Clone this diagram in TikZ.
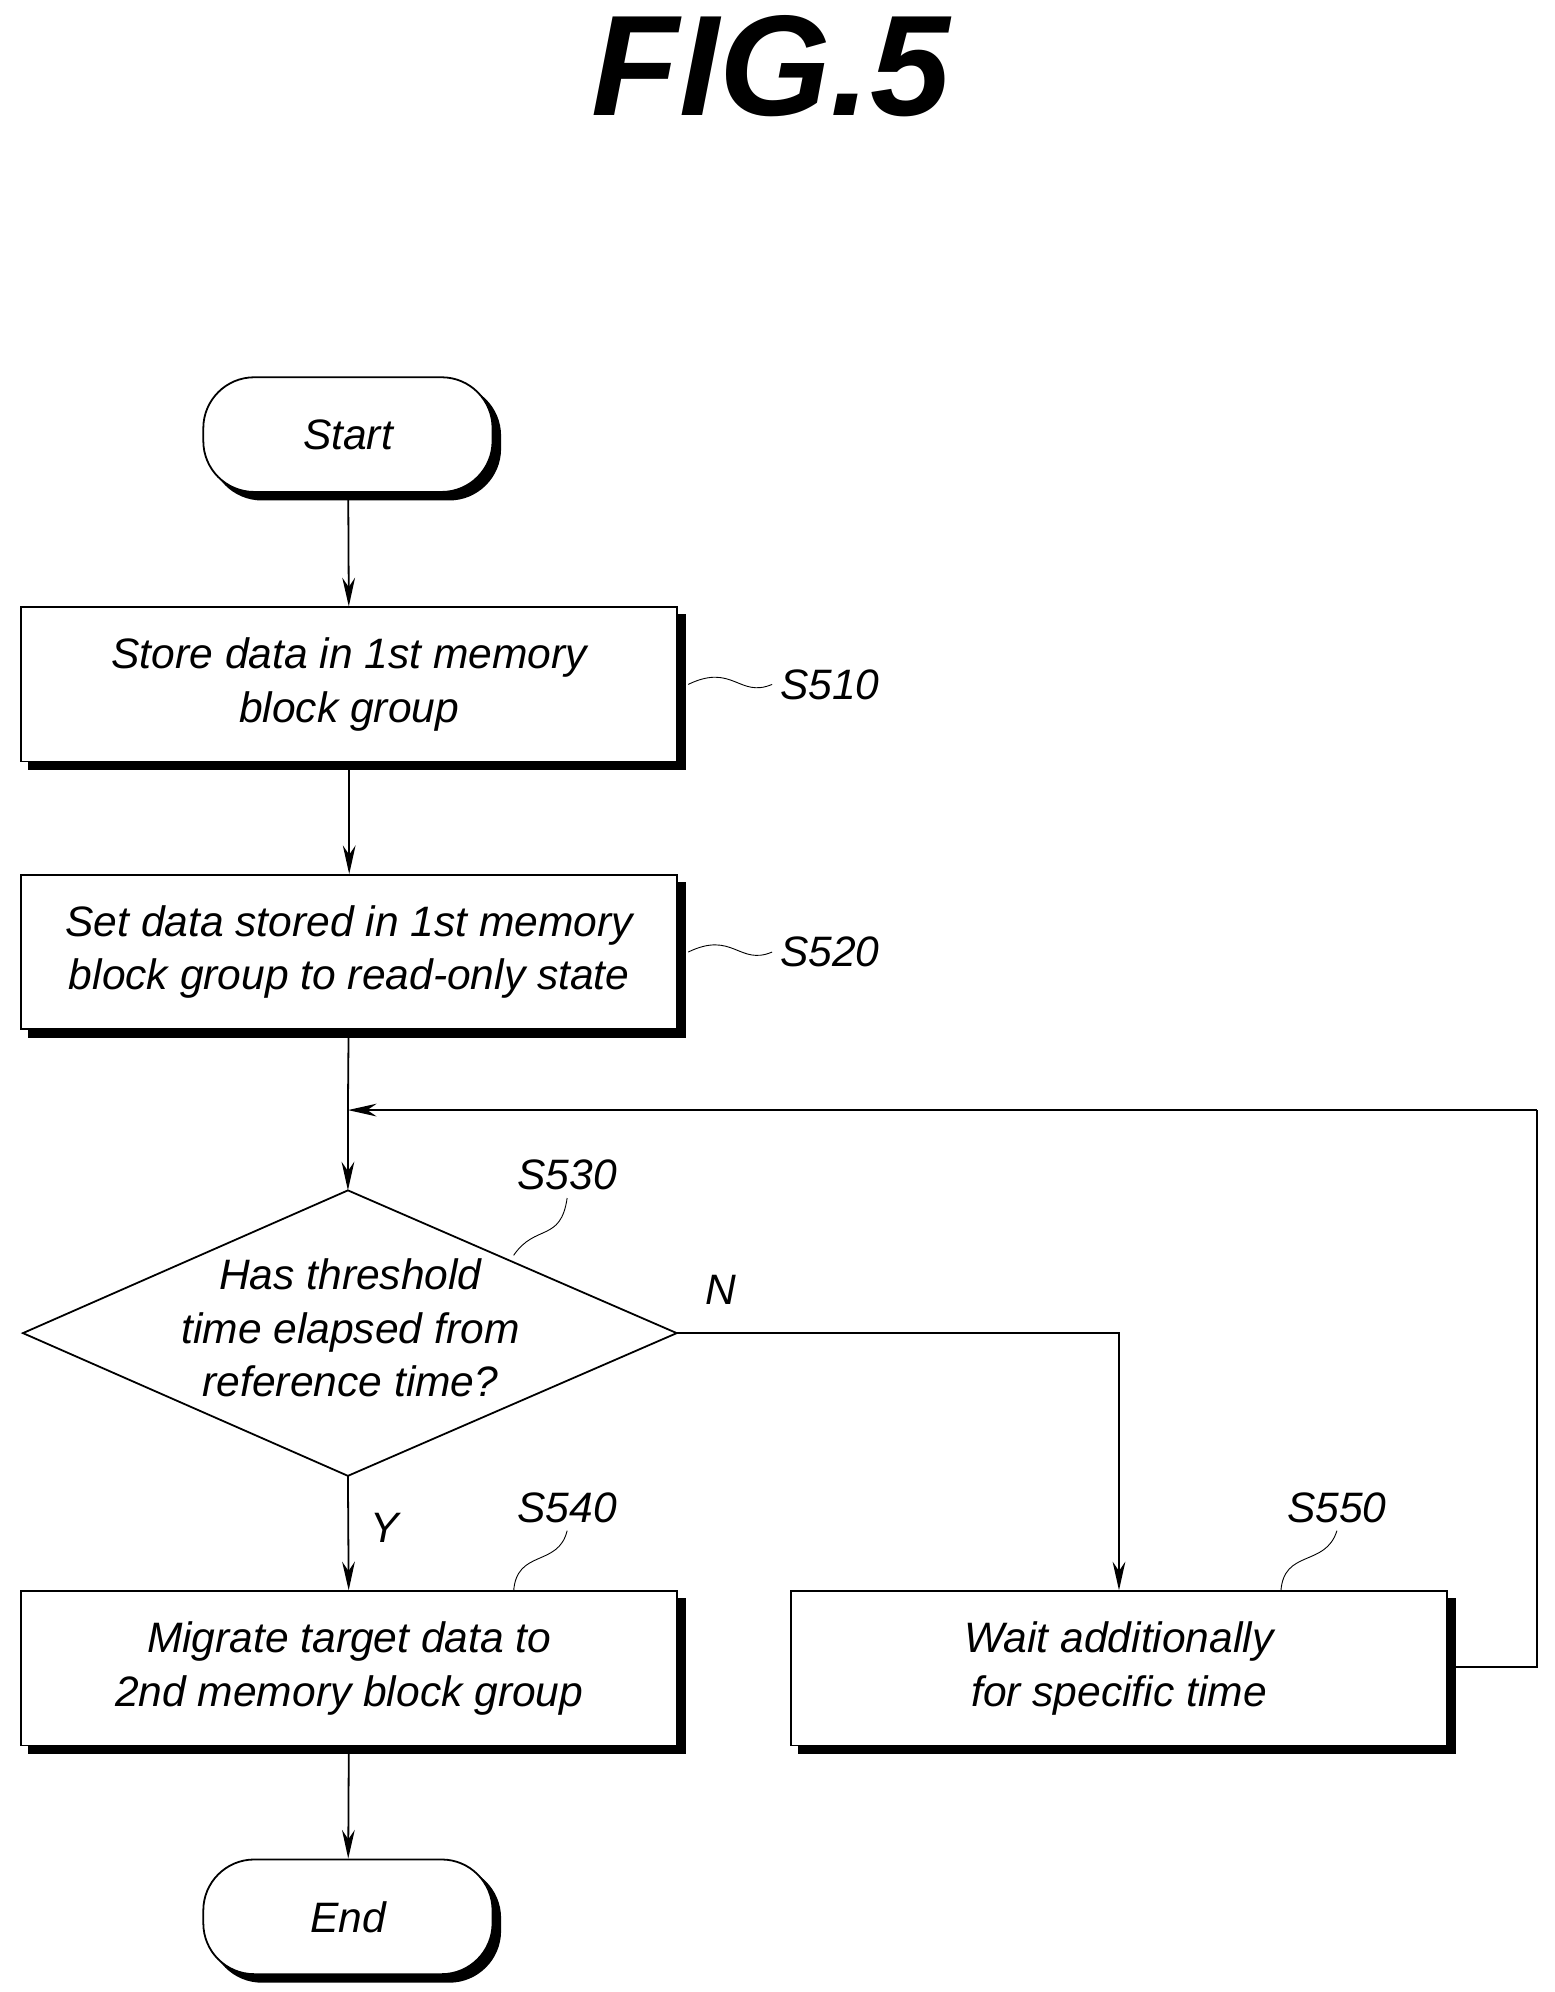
\documentclass[tikz,border=0pt]{standalone}
\usepackage{fontspec}
\setmainfont{Liberation Sans}
\usetikzlibrary{shadows,arrows.meta}

\tikzset{
  box/.style = {rectangle, draw, thick, fill=white, minimum width=10.3cm, minimum height=2.42cm,
    align=center, font=\fontsize{19}{24}\selectfont\itshape,
    copy shadow={shadow xshift=0.12cm, shadow yshift=-0.12cm, fill=black, draw=black}},
  term/.style = {box, rounded corners=0.8cm, minimum width=4.54cm, minimum height=1.8cm},
  lbl/.style = {font=\fontsize{19}{24}\selectfont\itshape},
  arr/.style = {-{Stealth[length=0.45cm, width=0.2cm]}, thick},
}

\begin{document}
\begin{tikzpicture}[x=0.02cm, y=-0.02cm]
    \useasboundingbox (0,0) rectangle (1220,1563);
    \node[font=\fontsize{64}{64}\selectfont\bfseries\itshape\rmfamily] (fig) at (605,52) {FIG.5};

    \node[term] (start) at (273,341) {Start};
    \node[box] (s510) at (274,537) {Store data in 1st memory\\block group};
    \node[box] (s520) at (274,747) {Set data stored in 1st memory\\block group to read-only state};

    % decision
    \coordinate (dt) at (273,934);
    \coordinate (db) at (273,1158);
    \coordinate (dl) at (18,1046);
    \coordinate (dr) at (531,1046);
    \draw[thick, fill=white] (dt) -- (dr) -- (db) -- (dl) -- cycle;
    \node[lbl, align=center] (s530) at (275,1042) {Has threshold\\time elapsed from\\reference time?};

    \node[box] (s540) at (274,1309) {Migrate target data to\\2nd memory block group};
    \node[box] (s550) at (878,1309) {Wait additionally\\for specific time};
    \node[term] (end) at (273,1504) {End};

    \coordinate (join) at (273,871);
    \coordinate (turn) at (878,1046);
    \coordinate (rt) at (1206,871);
    \coordinate (rb) at (1206,1308);

    \draw[arr] (start) -- (s510);
    \draw[arr] (s510) -- (s520);
    \draw[thick] (s520) -- (join);
    \draw[arr] (join) -- (dt);
    \draw[arr] (db) -- (s540);
    \draw[arr] (dr) -- (turn) -- (s550);
    \draw[arr] (s540) -- (end);
    \draw[thick] (s550.east |- rb) -- (rb) -- (rt);
    \draw[arr] (rt) -- (join);
    \node[lbl] (y) at (302,1199) {Y};
    \node[lbl] (n) at (566,1012) {N};

    % step labels
    \node[lbl] (l510) at (651,537) {S510};
    \node[lbl] (l520) at (651,747) {S520};
    \node[lbl] (l530) at (445,922) {S530};
    \node[lbl] (l540) at (445,1183) {S540};
    \node[lbl] (l550) at (1049,1183) {S550};
    \draw (540,537) .. controls (575,520) and (580,548) .. (l510.west);
    \draw (540,747) .. controls (575,730) and (580,758) .. (l520.west);
    \draw (403,985) .. controls (420,960) and (440,975) .. (l530.south);
    \draw (403,1249) .. controls (405,1215) and (438,1230) .. (l540.south);
    \draw (1005,1249) .. controls (1007,1215) and (1040,1230) .. (l550.south);
\end{tikzpicture}
\end{document}
